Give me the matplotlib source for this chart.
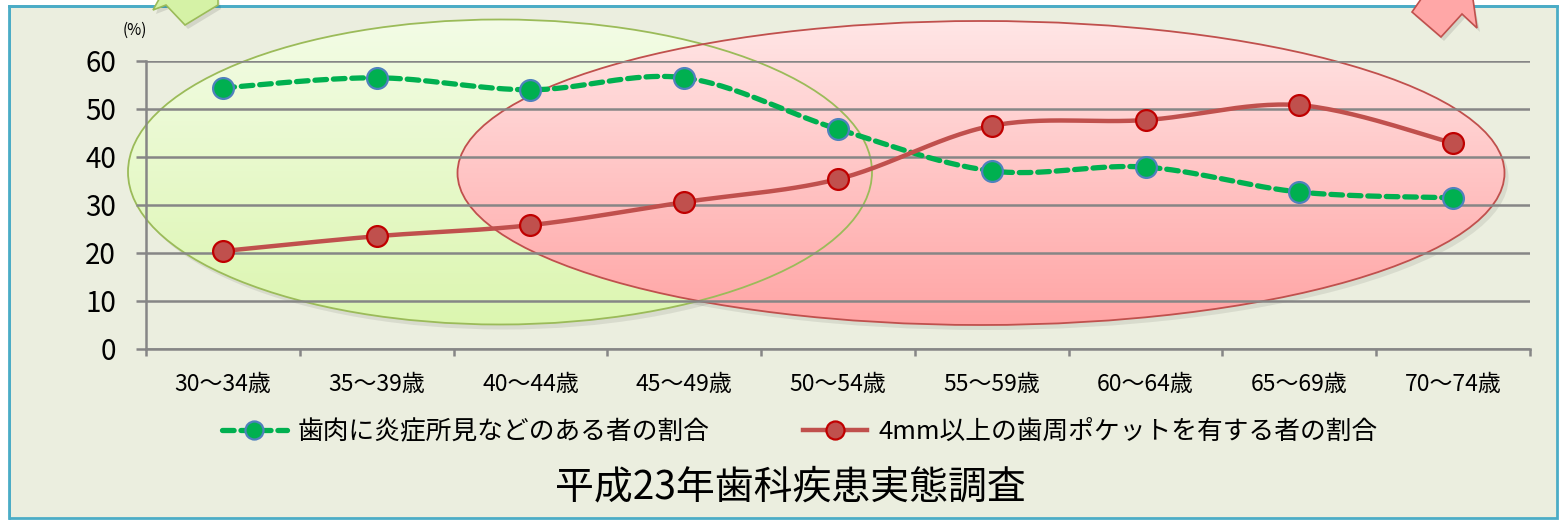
import numpy as np
import matplotlib
matplotlib.use("Agg")
import matplotlib.pyplot as plt
from matplotlib.patches import Ellipse, Polygon, Rectangle
from matplotlib.lines import Line2D

plt.rcParams['font.family'] = ['Noto Sans CJK JP', 'DejaVu Sans']

categories = ["30〜34歳", "35〜39歳", "40〜44歳", "45〜49歳", "50〜54歳",
              "55〜59歳", "60〜64歳", "65〜69歳", "70〜74歳"]
inflamed = [54.4, 56.5, 54.0, 56.5, 45.8, 37.1, 37.9, 32.7, 31.5]
pocket = [20.4, 23.5, 25.8, 30.6, 35.4, 46.5, 47.7, 50.8, 42.9]
yticks = [0, 10, 20, 30, 40, 50, 60]
label_inflamed = "歯肉に炎症所見などのある者の割合"
label_pocket = "4mm以上の歯周ポケットを有する者の割合"
title = "平成23年歯科疾患実態調査"

W, H = 1560, 520
fig = plt.figure(figsize=(W / 100, H / 100), dpi=100)
fig.patch.set_facecolor("white")

# background overlay axes in pixel coords
bg = fig.add_axes([0, 0, 1, 1], zorder=0)
bg.set_xlim(0, W)
bg.set_ylim(H, 0)
bg.axis("off")
bg.add_patch(Rectangle((9, 6), W - 12, H - 8, facecolor="#EBEEDF",
                       edgecolor="#4BACC6", lw=2))


def grad_ellipse(ax, cx, cy, w, h, top, bottom, edge):
    sh = Ellipse((cx + 4, cy + 5), w, h, facecolor="#000000", alpha=0.08,
                 edgecolor="none")
    ax.add_patch(sh)
    e = Ellipse((cx, cy), w, h, facecolor="none", edgecolor=edge, lw=1.3,
                zorder=3)
    clip = Ellipse((cx, cy), w, h, facecolor="none", edgecolor="none")
    ax.add_patch(clip)
    t = np.array(matplotlib.colors.to_rgb(top))
    b = np.array(matplotlib.colors.to_rgb(bottom))
    f = np.linspace(0, 1, 256)[:, None]
    img = (t[None, :] * (1 - f) + b[None, :] * f)[:, None, :]
    im = ax.imshow(img, extent=(cx - w / 2, cx + w / 2, cy + h / 2, cy - h / 2),
                   aspect="auto", zorder=2, interpolation="bilinear")
    im.set_clip_path(clip)
    ax.add_patch(e)


grad_ellipse(bg, 500, 172, 744, 305, "#F3FCE6", "#DCF6B0", "#9BBB59")
grad_ellipse(bg, 981, 173, 1047, 304, "#FFE6E6", "#FFA4A4", "#C0504D")
bg.set_xlim(0, W)
bg.set_ylim(H, 0)

bg.add_patch(Rectangle((0, 0), 9, H, facecolor="white", edgecolor="none", zorder=5))
bg.add_patch(Rectangle((0, 0), W, 5, facecolor="white", edgecolor="none", zorder=5))
bg.plot([9, W - 3], [6, 6], color="#4BACC6", lw=2, zorder=6)
bg.plot([9, 9], [6, H - 2], color="#4BACC6", lw=2, zorder=6)

# arrows at the top (partially outside the picture)
for dx, dy, a in [(3, 4, 0.10)]:
    bg.add_patch(Polygon([(1412 + dx, 12 + dy), (1426, -8), (1472, -8),
                          (1477 + dx, 28 + dy), (1462 + dx, 14 + dy),
                          (1441 + dx, 37 + dy)], closed=True,
                         facecolor="black", alpha=a, edgecolor="none", zorder=6))
    bg.add_patch(Polygon([(153 + dx, 10 + dy), (163, -8), (218, -8),
                          (218 + dx, 5 + dy), (185 + dx, 25 + dy),
                          (166 + dx, 5 + dy)], closed=True,
                         facecolor="black", alpha=a, edgecolor="none", zorder=6))
bg.add_patch(Polygon([(1412, 12), (1426, -8), (1472, -8), (1477, 28),
                      (1462, 14), (1441, 37)], closed=True,
                     facecolor="#FFA7A7", edgecolor="#C0504D", lw=1.2, zorder=7))
bg.add_patch(Polygon([(153, 10), (163, -8), (218, -8), (218, 5),
                      (185, 25), (166, 5)], closed=True,
                     facecolor="#D5F2A6", edgecolor="#9BBB59", lw=1.2, zorder=7))

# main axes
left, right = 146 / W, 1530 / W
bottom, top = (H - 349) / H, (H - 61) / H
ax = fig.add_axes([left, bottom, right - left, top - bottom], zorder=1)
ax.patch.set_alpha(0)
x = np.arange(len(categories))
ax.set_xlim(-0.5, len(categories) - 0.5)
ax.set_ylim(0, 60)
ax.set_yticks(yticks)
ax.set_yticklabels([str(v) for v in yticks], fontsize=20)
ax.yaxis.grid(True, color="#868686", lw=1.8, zorder=0)
ax.set_axisbelow(True)
for s in ["top", "right"]:
    ax.spines[s].set_visible(False)
for s in ["left", "bottom"]:
    ax.spines[s].set_color("#868686")
    ax.spines[s].set_linewidth(1.8)
ax.tick_params(axis="y", length=7.5, width=1.8, color="#868686", pad=14)
ax.set_xticks(np.arange(-0.5, len(categories), 1.0))
ax.set_xticklabels([])
ax.tick_params(axis="x", length=5, width=1.8, color="#868686")
ax.set_xticks(x, minor=True)
ax.set_xticklabels(categories, minor=True, fontsize=16.5)
ax.tick_params(axis="x", which="minor", length=0, pad=17)


def smooth(xs, ys, n=30, tension=0.5):
    xs = np.asarray(xs, float)
    ys = np.asarray(ys, float)
    P = np.column_stack([xs, ys])
    P = np.vstack([P[0], P, P[-1]])
    out = []
    for i in range(1, len(P) - 2):
        p0, p1, p2, p3 = P[i - 1], P[i], P[i + 1], P[i + 2]
        m1 = tension * (p2 - p0)
        m2 = tension * (p3 - p1)
        t = np.linspace(0, 1, n)[:, None]
        h00 = 2 * t**3 - 3 * t**2 + 1
        h10 = t**3 - 2 * t**2 + t
        h01 = -2 * t**3 + 3 * t**2
        h11 = t**3 - t**2
        out.append(h00 * p1 + h10 * m1 + h01 * p2 + h11 * m2)
    out = np.vstack(out)
    return out[:, 0], out[:, 1]


sx, sy = smooth(x, inflamed)
ax.plot(sx, sy, color="#00B050", lw=3.8, ls=(0, (2.2, 1.3)), zorder=3,
        solid_capstyle="round", dash_capstyle="round")
ax.plot(x, inflamed, ls="none", marker="o", ms=15, mfc="#00B050",
        mec="#4F81BD", mew=1.6, zorder=4)
sx, sy = smooth(x, pocket)
ax.plot(sx, sy, color="#C0504D", lw=3.2, zorder=3, solid_capstyle="round")
ax.plot(x, pocket, ls="none", marker="o", ms=15, mfc="#C0504D",
        mec="#C00000", mew=1.6, zorder=4)

fig.text(135 / W, 1 - 30 / H, "(%)", fontsize=11, ha="center", va="center")

h1 = Line2D([], [], color="#00B050", lw=3.8, ls=(0, (2.2, 1.3)), marker="o",
            ms=13, mfc="#00B050", mec="#4F81BD", mew=1.6,
            dash_capstyle="round")
h2 = Line2D([], [], color="#C0504D", lw=3.2, marker="o", ms=13,
            mfc="#C0504D", mec="#C00000", mew=1.6)
fig.legend([h1, h2], [label_inflamed, label_pocket], loc="center",
           bbox_to_anchor=(800 / W, 1 - 432 / H), ncol=2, frameon=False,
           fontsize=18.5, handlelength=2.5, columnspacing=3.6, handletextpad=0.45)

fig.text(790 / W, 1 - 487 / H, title, fontsize=28, ha="center", va="center")

fig.savefig("out.png", dpi=100, facecolor=fig.get_facecolor())
